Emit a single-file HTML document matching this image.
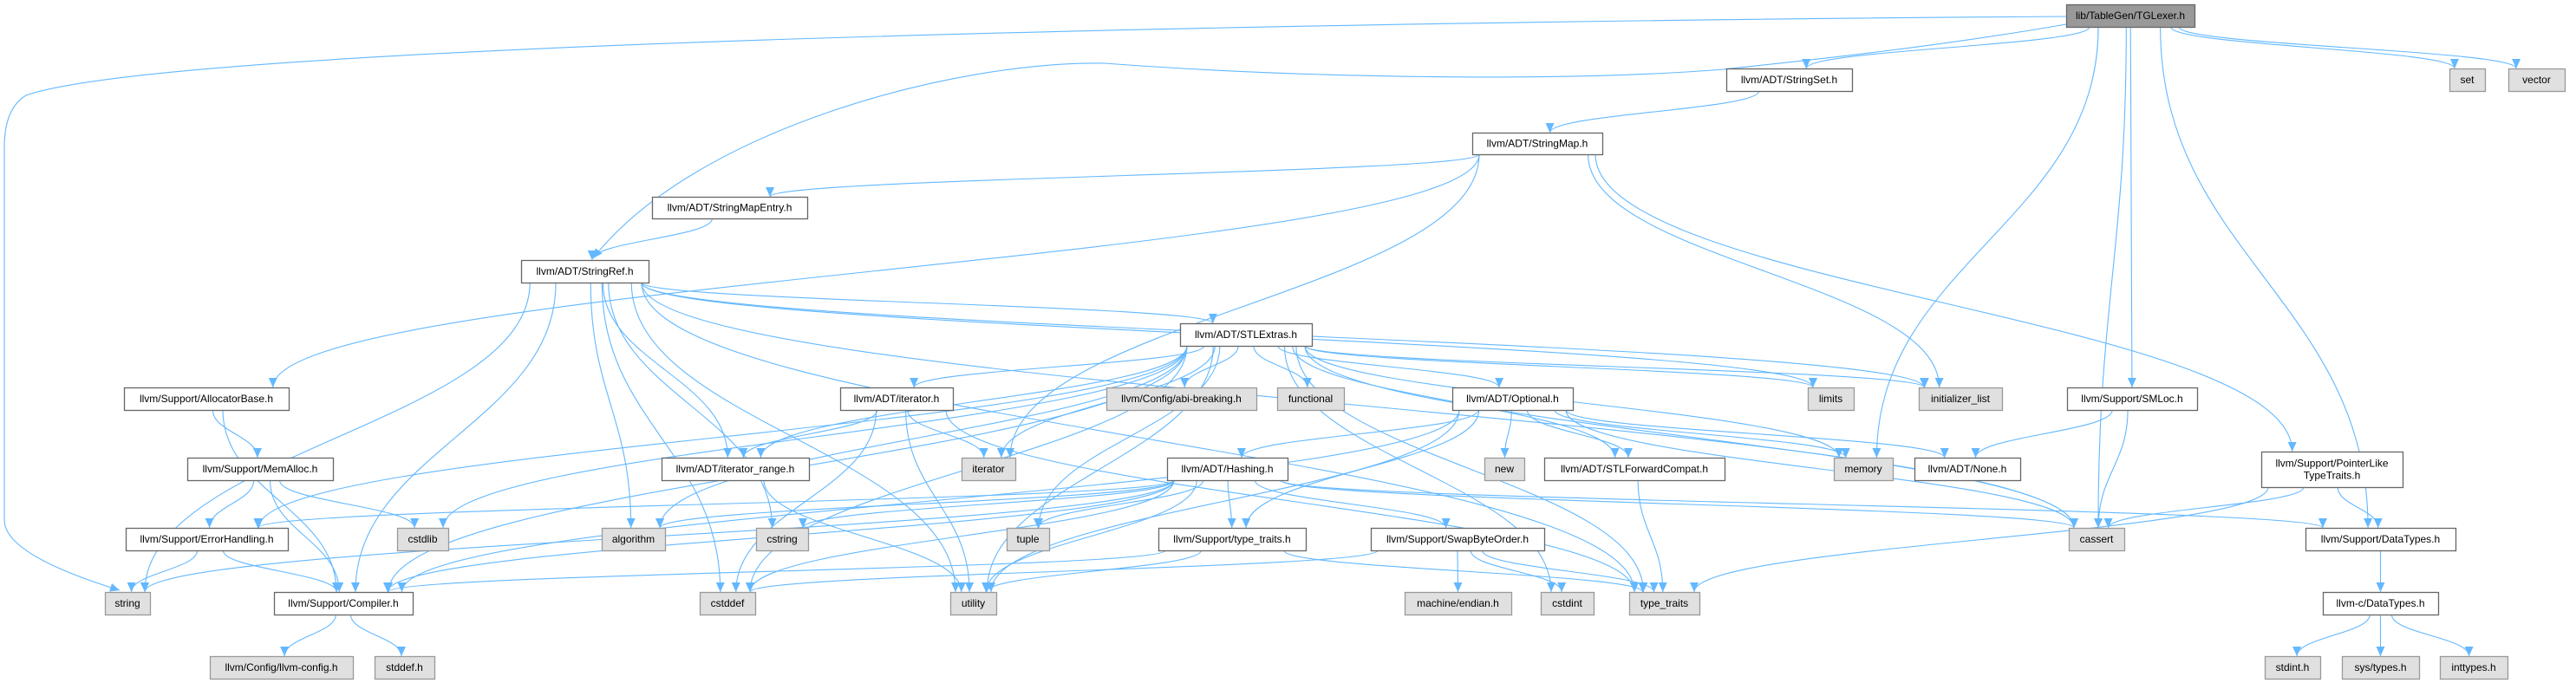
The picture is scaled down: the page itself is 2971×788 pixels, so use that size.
<!DOCTYPE html>
<html><head><meta charset="utf-8"><style>
html,body{margin:0;padding:0;background:#fff;}
svg{display:block;}
text{font-family:"Liberation Sans",Arial,sans-serif;font-size:12px;fill:#000;}
</style></head><body>
<svg id="g" xmlns="http://www.w3.org/2000/svg" width="2971" height="788" viewBox="0 0 2971 788">
<defs><marker id="a" markerUnits="userSpaceOnUse" markerWidth="12" markerHeight="10" refX="11" refY="5" orient="auto"><path d="M0,0 L11,5 L0,10 z" fill="#63b8ff"/></marker></defs>
<g id="e" fill="none" stroke="#63b8ff" stroke-width="1.1"></g>
<g id="n"></g>
</svg>
<script>
var N={
TG:[2383,5,2531,31,2,"lib/TableGen/TGLexer.h"],
SS:[1991,79,2136,105,0,"llvm/ADT/StringSet.h"],
set:[2825,79,2866,105,1,"set"],
vec:[2893,79,2958,105,1,"vector"],
SM:[1698,153,1848,178,0,"llvm/ADT/StringMap.h"],
SME:[752,227,931,252,0,"llvm/ADT/StringMapEntry.h"],
SR:[601,300,748,326,0,"llvm/ADT/StringRef.h"],
STL:[1361,373,1513,399,0,"llvm/ADT/STLExtras.h"],
AB:[143,447,333,473,0,"llvm/Support/AllocatorBase.h"],
ITH:[969,447,1099,473,0,"llvm/ADT/iterator.h"],
ABI:[1276,447,1449,473,1,"llvm/Config/abi-breaking.h"],
fun:[1473,447,1550,473,1,"functional"],
OPT:[1675,447,1814,473,0,"llvm/ADT/Optional.h"],
lim:[2085,447,2138,473,1,"limits"],
il:[2213,447,2309,473,1,"initializer_list"],
SML:[2384,447,2534,473,0,"llvm/Support/SMLoc.h"],
MA:[216,528,384,554,0,"llvm/Support/MemAlloc.h"],
ITR:[763,528,933,554,0,"llvm/ADT/iterator_range.h"],
it:[1109,528,1171,554,1,"iterator"],
HS:[1346,528,1485,554,0,"llvm/ADT/Hashing.h"],
nw:[1712,528,1758,554,1,"new"],
SFC:[1781,528,1989,554,0,"llvm/ADT/STLForwardCompat.h"],
mem:[2115,528,2183,554,1,"memory"],
NON:[2208,528,2330,554,0,"llvm/ADT/None.h"],
PL:[2608,521,2771,562,0,"llvm/Support/PointerLike|TypeTraits.h"],
EH:[145,609,332,635,0,"llvm/Support/ErrorHandling.h"],
csl:[458,609,517,635,1,"cstdlib"],
alg:[694,609,767,635,1,"algorithm"],
cst:[872,609,932,635,1,"cstring"],
tup:[1161,609,1210,635,1,"tuple"],
TTH:[1336,609,1506,635,0,"llvm/Support/type_traits.h"],
SBO:[1581,609,1781,635,0,"llvm/Support/SwapByteOrder.h"],
cas:[2386,609,2450,635,1,"cassert"],
DT:[2659,609,2832,635,0,"llvm/Support/DataTypes.h"],
str:[121,683,173,709,1,"string"],
CMP:[316,683,476,709,0,"llvm/Support/Compiler.h"],
cdf:[807,683,871,709,1,"cstddef"],
uti:[1096,683,1149,709,1,"utility"],
end:[1620,683,1743,709,1,"machine/endian.h"],
ci:[1777,683,1838,709,1,"cstdint"],
tt:[1879,683,1960,709,1,"type_traits"],
CDT:[2679,683,2812,709,0,"llvm-c/DataTypes.h"],
cfg:[242,757,407,783,1,"llvm/Config/llvm-config.h"],
sdh:[432,757,501,783,1,"stddef.h"],
si:[2612,757,2676,783,1,"stdint.h"],
sty:[2701,757,2790,783,1,"sys/types.h"],
ity:[2814,757,2892,783,1,"inttypes.h"]
};
var E=[
["TG","SS"],["TG","cas"],["TG","mem"],["TG","SML"],["TG","DT"],["TG","set"],["TG","vec"],
["SS","SM"],
["SM","SME"],["SM","AB"],["SM","it"],["SM","il"],["SM","PL"],
["SME","SR"],
["SR","str"],["SR","CMP"],["SR","cdf"],["SR","alg"],["SR","uti"],["SR","ITR"],["SR","cst"],["SR","STL"],["SR","lim"],["SR","cas"],["SR","tt"],["SR","il"],
["STL","EH"],["STL","csl"],["STL","alg"],["STL","cdf"],["STL","ITR"],["STL","ITH"],["STL","it"],["STL","uti"],["STL","ABI"],["STL","fun"],["STL","OPT"],["STL","tup"],["STL","SFC"],["STL","tt"],["STL","ci"],["STL","cas"],["STL","mem"],["STL","lim"],["STL","il"],["STL","CMP"],
["ITH","ITR"],["ITH","it"],["ITH","uti"],["ITH","cdf"],["ITH","tt"],
["ITR","uti"],
["OPT","HS"],["OPT","TTH"],["OPT","CMP"],["OPT","uti"],["OPT","nw"],["OPT","SFC"],["OPT","mem"],["OPT","NON"],["OPT","cas"],
["HS","EH"],["HS","alg"],["HS","cst"],["HS","tup"],["HS","TTH"],["HS","SBO"],["HS","uti"],["HS","CMP"],["HS","cdf"],["HS","cas"],["HS","DT"],["HS","str"],
["TTH","CMP"],["TTH","uti"],["TTH","tt"],
["SBO","cdf"],["SBO","end"],["SBO","ci"],["SBO","tt"],
["SFC","tt"],
["SML","NON"],["SML","cas"],
["PL","cas"],["PL","DT"],["PL","tt"],
["DT","CDT"],["CDT","si"],["CDT","sty"],["CDT","ity"],
["AB","MA"],["AB","CMP"],
["MA","EH"],["MA","CMP"],["MA","csl"],
["EH","str"],["EH","CMP"],
["CMP","cfg"],["CMP","sdh"]
];
var ns="http://www.w3.org/2000/svg",eg=document.getElementById("e"),ng=document.getElementById("n");
function P(d){var p=document.createElementNS(ns,"path");p.setAttribute("d",d);p.setAttribute("marker-end","url(#a)");eg.appendChild(p);}
P("M2383,19 C1500,25 200,50 30,110 Q5,125 5,170 L5,600 Q5,640 138,681");
P("M2383,28 C2200,60 2000,78 1988,80 C1800,95 1500,90 1274,73 C1100,70 800,150 684,298");
function cl(v,a,b){return Math.max(a,Math.min(b,v));}
E.forEach(function(e){
 var s=N[e[0]],t=N[e[1]];
 var scx=(s[0]+s[2])/2,tcx=(t[0]+t[2])/2;
 if(t[1]>=s[3]){
  var sx=cl(scx+(tcx-scx)*0.12,s[0]+8,s[2]-8),sy=s[3];
  var tx=cl(tcx+(scx-tcx)*0.05,t[0]+6,t[2]-6),ty=t[1];
  var dy=ty-sy;
  P("M"+sx+","+sy+" C"+sx+","+(sy+dy*0.45)+" "+tx+","+(ty-dy*0.45)+" "+tx+","+ty);
 } else {
  var sy=(s[1]+s[3])/2,ty=(t[1]+t[3])/2,sx,tx;
  if(tcx<scx){sx=s[0];tx=t[2];}else{sx=s[2];tx=t[0];}
  P("M"+sx+","+sy+" C"+((sx+tx)/2)+","+sy+" "+((sx+tx)/2)+","+ty+" "+tx+","+ty);
 }
});
for(var k in N){var b=N[k];
 var r=document.createElementNS(ns,"rect");
 r.setAttribute("x",b[0]+0.5);r.setAttribute("y",b[1]+0.5);r.setAttribute("width",b[2]-b[0]);r.setAttribute("height",b[3]-b[1]);
 r.setAttribute("fill",b[4]==2?"#999999":b[4]==1?"#e0e0e0":"#ffffff");
 r.setAttribute("stroke",b[4]==1?"#999999":"#666666");r.setAttribute("stroke-width","1.3");
 ng.appendChild(r);
 var lines=b[5].split("|"),cx=(b[0]+b[2])/2,cy=(b[1]+b[3])/2;
 lines.forEach(function(l,i){var t=document.createElementNS(ns,"text");
  t.setAttribute("x",cx);t.setAttribute("y",cy+4+(i-(lines.length-1)/2)*14);t.setAttribute("text-anchor","middle");
  t.textContent=l;ng.appendChild(t);});
}
</script>
</body></html>
